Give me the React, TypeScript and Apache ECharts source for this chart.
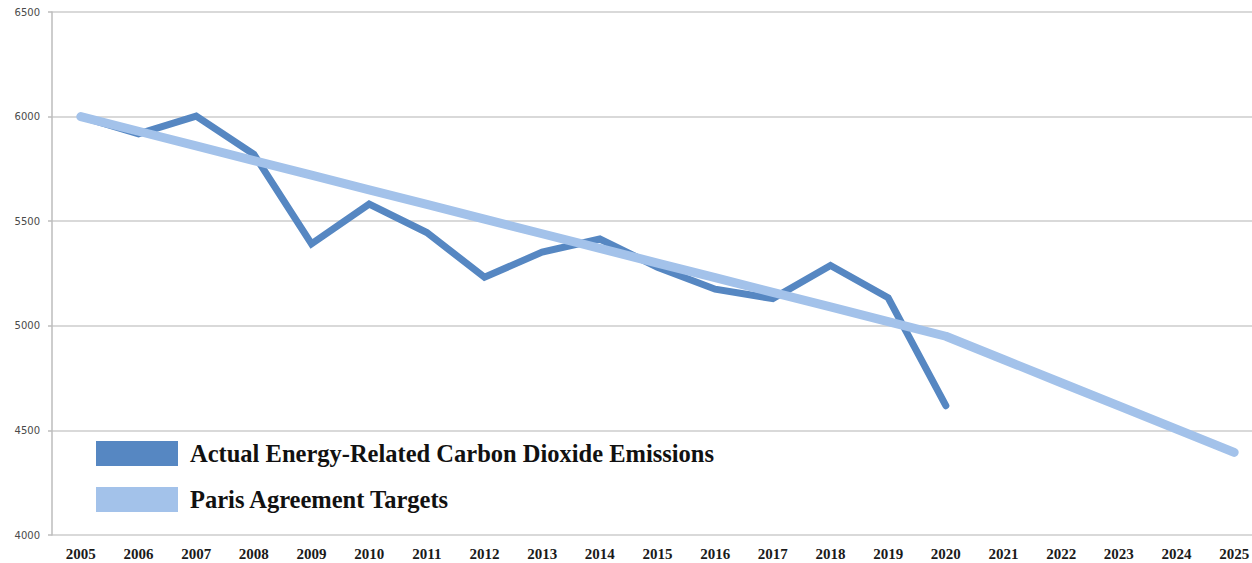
import React, { useEffect, useRef } from "react";
import * as echarts from "echarts";

// Years on the category axis
const years = [
  "2005", "2006", "2007", "2008", "2009", "2010", "2011", "2012", "2013", "2014",
  "2015", "2016", "2017", "2018", "2019", "2020", "2021", "2022", "2023", "2024", "2025",
];

// Actual energy-related CO2 emissions (million metric tons), 2005–2020
const actualEmissions: (number | null)[] = [
  6000, 5918, 6002, 5820, 5392, 5582, 5446, 5232, 5352, 5415,
  5280, 5175, 5130, 5288, 5134, 4618, null, null, null, null, null,
];

// Paris Agreement target path, 2005–2025
const parisTargets = [
  6000, 5930, 5860, 5790, 5720, 5650, 5580, 5510, 5440, 5370,
  5300, 5230, 5160, 5090, 5020, 4950, 4839, 4728, 4617, 4506, 4395,
];

const seriesNames = [
  "Actual Energy-Related Carbon Dioxide Emissions",
  "Paris Agreement Targets",
];

const DARK_BLUE = "#5687c2";
const LIGHT_BLUE = "#a3c2ea";

// The plot runs a little past the right edge of the visible frame,
// so the chart canvas is wider than its clipping wrapper.
const VIEW_W = 1252;
const VIEW_H = 563;
const CHART_W = 1263;

export default function App() {
  const ref = useRef<HTMLDivElement>(null);

  useEffect(() => {
    if (!ref.current) return;
    const chart = echarts.init(ref.current, undefined, { renderer: "svg" });
    chart.setOption({
      animation: false,
      backgroundColor: "#ffffff",
      grid: { left: 52, top: 12, bottom: 28, right: 0, containLabel: false },
      legend: {
        orient: "vertical",
        left: 96,
        top: 441,
        itemWidth: 82,
        itemHeight: 25,
        itemGap: 21,
        icon: "rect",
        padding: 0,
        selectedMode: false,
        textStyle: {
          fontFamily: "Liberation Serif",
          fontWeight: "bold",
          fontSize: 24.5,
          color: "#111111",
          padding: [0, 0, 0, 7],
        },
        data: seriesNames,
      },
      xAxis: {
        type: "category",
        data: years,
        boundaryGap: true,
        axisLine: { show: false },
        axisTick: { show: false },
        axisLabel: {
          margin: 11,
          fontFamily: "Liberation Serif",
          fontWeight: "bold",
          fontSize: 15,
          color: "#1a1a1a",
          interval: 0,
        },
        splitLine: { show: false },
      },
      yAxis: {
        type: "value",
        min: 4000,
        max: 6500,
        interval: 500,
        axisLine: { show: true, lineStyle: { color: "#bdbdbd", width: 1.5 } },
        axisTick: { show: true, length: 4, lineStyle: { color: "#bdbdbd", width: 1.5 } },
        axisLabel: {
          margin: 12,
          fontFamily: "DejaVu Sans",
          fontSize: 10,
          color: "#4a4a4a",
          formatter: (v: number) => String(v),
        },
        splitLine: { show: true, lineStyle: { color: "#cdcdcd", width: 1.5 } },
      },
      series: [
        {
          name: seriesNames[0],
          type: "line",
          data: actualEmissions,
          showSymbol: false,
          symbol: "none",
          color: DARK_BLUE,
          itemStyle: { color: DARK_BLUE },
          lineStyle: { color: DARK_BLUE, width: 7, cap: "round", join: "miter" },
          z: 2,
        },
        {
          name: seriesNames[1],
          type: "line",
          data: parisTargets,
          showSymbol: false,
          symbol: "none",
          color: LIGHT_BLUE,
          itemStyle: { color: LIGHT_BLUE },
          lineStyle: { color: LIGHT_BLUE, width: 9, cap: "round", join: "round" },
          z: 3,
        },
      ],
    });
    return () => chart.dispose();
  }, []);

  return (
    <div
      style={{
        position: "absolute",
        left: 0,
        top: 0,
        width: VIEW_W,
        height: VIEW_H,
        overflow: "hidden",
        background: "#ffffff",
      }}
    >
      <div ref={ref} style={{ width: CHART_W, height: VIEW_H }} />
    </div>
  );
}
